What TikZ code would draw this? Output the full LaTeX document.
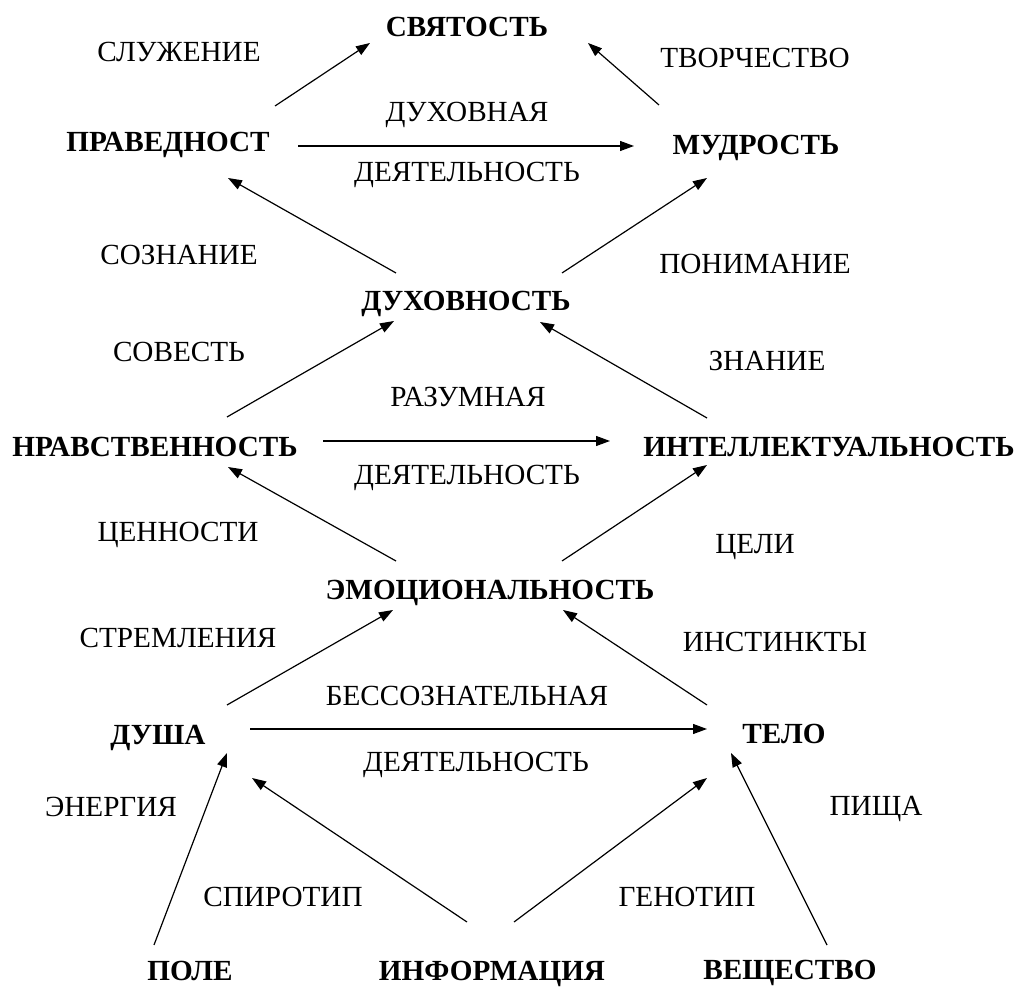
\documentclass[tikz,border=0pt]{standalone}
\usepackage{fontspec}
\setmainfont{Liberation Serif}
\usetikzlibrary{arrows.meta}

\begin{document}
\begin{tikzpicture}[x=0.5pt, y=-0.5pt, font=\fontsize{14.6}{17}\selectfont]
    % Node styles
    \tikzstyle{level}=[inner sep=0pt, text height=9.7pt, text depth=0pt, font=\fontsize{14.6}{17}\selectfont\bfseries]
    \tikzstyle{word}=[inner sep=0pt, text height=9.7pt, text depth=0pt]
    \tikzstyle{arr}=[line width=0.6pt, -{Triangle[length=7pt,width=5pt]}]

    % page frame
    \useasboundingbox (0,0) rectangle (1024,988);

    % --- Levels (bold) ---
    \node[level] (svyat)  at (467,27)  {СВЯТОСТЬ};
    \node[level] (prav)   at (168,142) {ПРАВЕДНОСТ};
    \node[level] (mudr)   at (756,145) {МУДРОСТЬ};
    \node[level] (duh)    at (466,301) {ДУХОВНОСТЬ};
    \node[level] (nrav)   at (155,447) {НРАВСТВЕННОСТЬ};
    \node[level] (intel)  at (829,447) {ИНТЕЛЛЕКТУАЛЬНОСТЬ};
    \node[level] (emoc)   at (490,590) {ЭМОЦИОНАЛЬНОСТЬ};
    \node[level] (dusha)  at (158,735) {ДУША};
    \node[level] (telo)   at (784,734) {ТЕЛО};
    \node[level] (pole)   at (190,971) {ПОЛЕ};
    \node[level] (inform) at (492,971) {ИНФОРМАЦИЯ};
    \node[level] (veshch) at (790,970) {ВЕЩЕСТВО};

    % --- Labels on the ways up ---
    \node[word] (sluzh)    at (179,52)  {СЛУЖЕНИЕ};
    \node[word] (tvor)     at (755,58)  {ТВОРЧЕСТВО};
    \node[word] (duhovn)   at (467,112) {ДУХОВНАЯ};
    \node[word] (deyat_a)  at (467,172) {ДЕЯТЕЛЬНОСТЬ};
    \node[word] (sozn)     at (179,255) {СОЗНАНИЕ};
    \node[word] (ponim)    at (755,264) {ПОНИМАНИЕ};
    \node[word] (sovest)   at (179,352) {СОВЕСТЬ};
    \node[word] (znan)     at (767,361) {ЗНАНИЕ};
    \node[word] (razum)    at (468,397) {РАЗУМНАЯ};
    \node[word] (deyat_b)  at (467,475) {ДЕЯТЕЛЬНОСТЬ};
    \node[word] (cennost)  at (178,532) {ЦЕННОСТИ};
    \node[word] (celi)     at (755,544) {ЦЕЛИ};
    \node[word] (stremlen) at (178,638) {СТРЕМЛЕНИЯ};
    \node[word] (instinkt) at (775,642) {ИНСТИНКТЫ};
    \node[word] (bessozn)  at (467,696) {БЕССОЗНАТЕЛЬНАЯ};
    \node[word] (deyat_c)  at (476,762) {ДЕЯТЕЛЬНОСТЬ};
    \node[word] (energ)    at (111,807) {ЭНЕРГИЯ};
    \node[word] (pishcha)  at (876,806) {ПИЩА};
    \node[word] (spirot)   at (283,897) {СПИРОТИП};
    \node[word] (genot)    at (687,897) {ГЕНОТИП};

    % --- Top ---
    \draw[arr] ([shift={(107,-36)}]prav.center) -- ([shift={(-97,16)}]svyat.center);
    \draw[arr] ([shift={(-97,-40)}]mudr.center) -- ([shift={(121,16)}]svyat.center);
    \draw[arr] ([shift={(130,4)}]prav.center) -- ([shift={(-122,1)}]mudr.center);

    % --- Spirit ---
    \draw[arr] ([shift={(-70,-28)}]duh.center) -- ([shift={(60,36)}]prav.center);
    \draw[arr] ([shift={(96,-28)}]duh.center) -- ([shift={(-49,33)}]mudr.center);
    \draw[arr] ([shift={(72,-30)}]nrav.center) -- ([shift={(-72,20)}]duh.center);
    \draw[arr] ([shift={(-122,-29)}]intel.center) -- ([shift={(74,21)}]duh.center);
    \draw[arr] ([shift={(168,-6)}]nrav.center) -- ([shift={(-219,-6)}]intel.center);

    % --- Emotions ---
    \draw[arr] ([shift={(-94,-29)}]emoc.center) -- ([shift={(73,20)}]nrav.center);
    \draw[arr] ([shift={(72,-29)}]emoc.center) -- ([shift={(-122,18)}]intel.center);
    \draw[arr] ([shift={(69,-30)}]dusha.center) -- ([shift={(-97,20)}]emoc.center);
    \draw[arr] ([shift={(-77,-29)}]telo.center) -- ([shift={(73,20)}]emoc.center);
    \draw[arr] ([shift={(92,-6)}]dusha.center) -- ([shift={(-77,-5)}]telo.center);

    % --- Bottom ---
    \draw[arr] ([shift={(-36,-26)}]pole.center) -- ([shift={(69,18)}]dusha.center);
    \draw[arr] ([shift={(-25,-49)}]inform.center) -- ([shift={(94,43)}]dusha.center);
    \draw[arr] ([shift={(22,-49)}]inform.center) -- ([shift={(-77,44)}]telo.center);
    \draw[arr] ([shift={(37,-25)}]veshch.center) -- ([shift={(-53,19)}]telo.center);

\end{tikzpicture}
\end{document}
